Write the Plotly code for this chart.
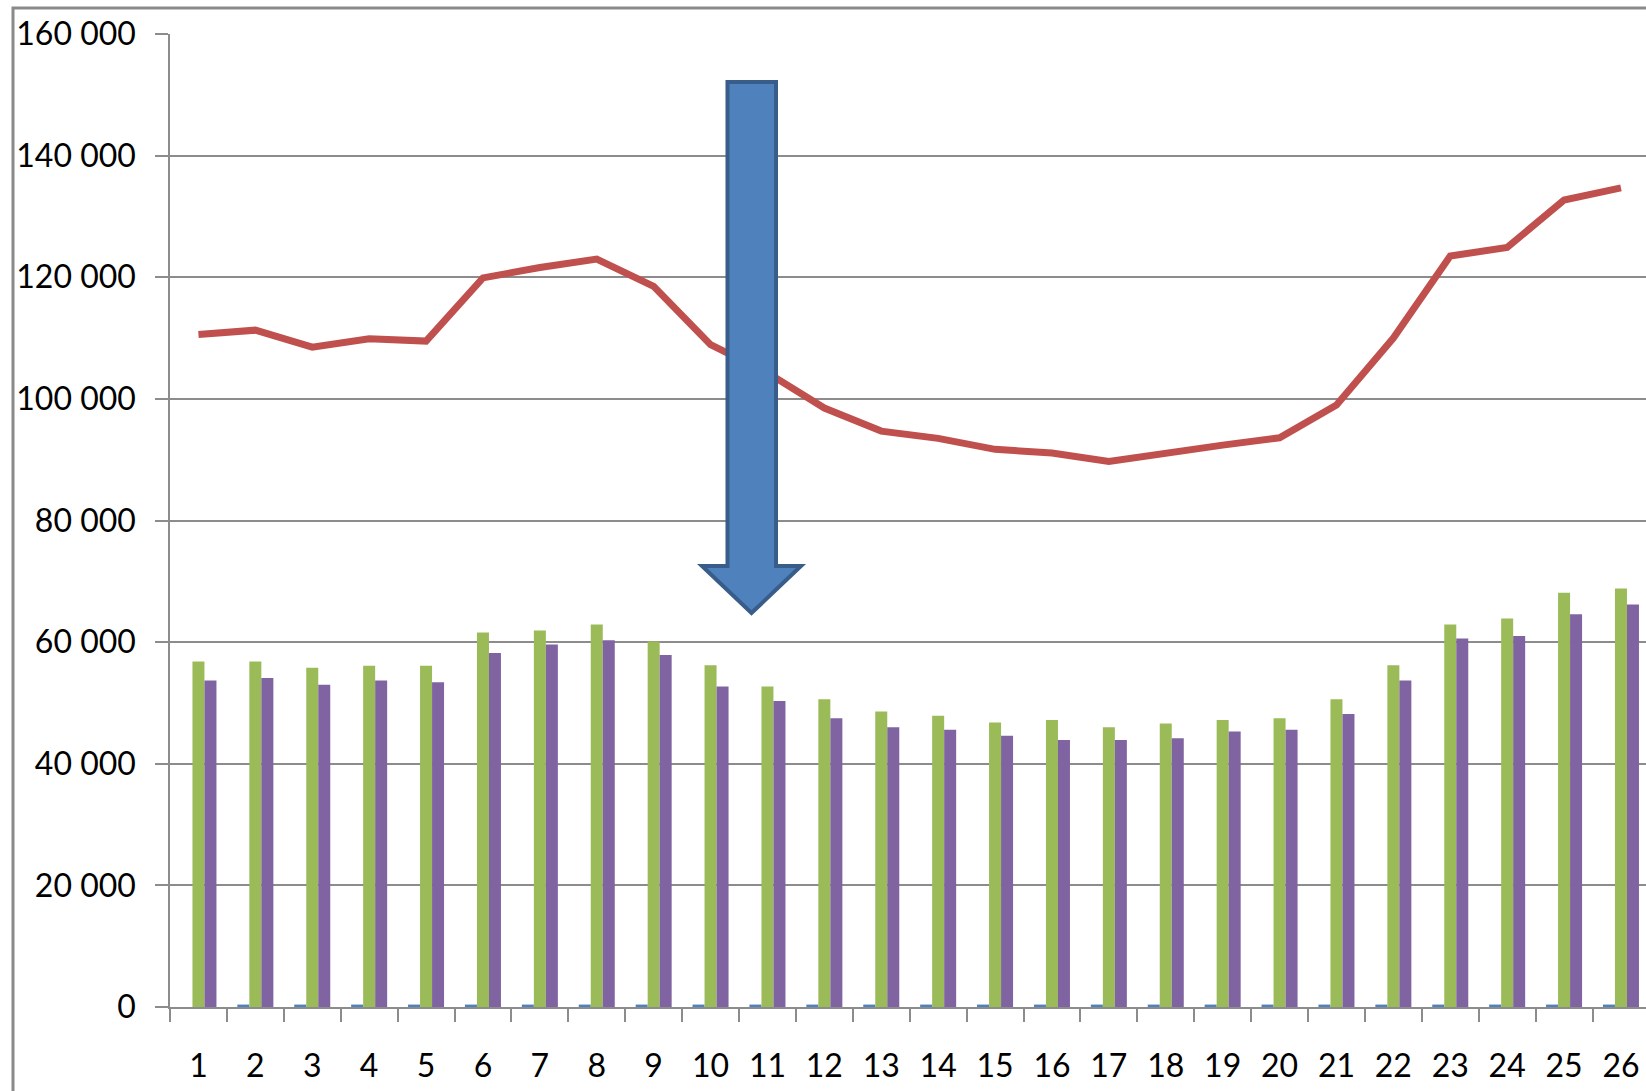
import plotly.graph_objects as go

categories = [str(i) for i in range(1, 27)]

blue_values = [0] + [400] * 25
green_values = [56800, 56800, 55800, 56100, 56100, 61600, 61900, 62900, 60100, 56200,
                52700, 50600, 48600, 47900, 46800, 47200, 46000, 46600, 47200, 47500,
                50600, 56200, 62900, 63900, 68100, 68800]
purple_values = [53700, 54100, 53000, 53700, 53400, 58200, 59600, 60300, 57900, 52700,
                 50300, 47500, 46000, 45600, 44600, 43900, 43900, 44200, 45300, 45600,
                 48200, 53700, 60600, 61000, 64600, 66200]
line_values = [110600, 111300, 108500, 109900, 109500, 119900, 121600, 123000, 118500, 108900,
               104300, 98500, 94700, 93500, 91700, 91100, 89700, 91100, 92400, 93600,
               99000, 110000, 123500, 124900, 132700, 134700]

y_tick_values = [0, 20000, 40000, 60000, 80000, 100000, 120000, 140000, 160000]
y_tick_labels = ["0", "20 000", "40 000", "60 000", "80 000", "100 000", "120 000", "140 000", "160 000"]

W, H = 1646, 1091
L, R, T, B = 170, 0, 34, 84
PW = W - L - R
PH = H - T - B

def px(x):
    return (x - L) / PW

def py(y):
    return (H - B - y) / PH

fig = go.Figure()
fig.add_trace(go.Bar(x=categories, y=blue_values, marker_color="#4F81BD",
                     marker_line_width=0, name="s1"))
fig.add_trace(go.Bar(x=categories, y=green_values, marker_color="#9BBB59",
                     marker_line_width=0, name="s2"))
fig.add_trace(go.Bar(x=categories, y=purple_values, marker_color="#8064A2",
                     marker_line_width=0, name="s3"))
fig.add_trace(go.Scatter(x=categories, y=line_values, mode="lines",
                         line=dict(color="#C0504D", width=7), name="s4"))

font = dict(family="Lato, Carlito, sans-serif", size=32, color="#000000")

fig.update_layout(
    width=W, height=H,
    margin=dict(l=L, r=R, t=T, b=B, autoexpand=False),
    paper_bgcolor="white", plot_bgcolor="white",
    showlegend=False,
    barmode="group", bargap=0.367, bargroupgap=0,
    font=font,
)
fig.update_xaxes(
    type="category", range=[-0.5, 25.44],
    showgrid=False, showline=True, linecolor="#8C8C8C", linewidth=1.5,
    ticks="outside", ticklen=13, tickcolor="#8C8C8C", tickwidth=1.5,
    tickson="boundaries", ticklabelstandoff=30,
    tickfont=font, automargin=False,
)
fig.update_yaxes(
    range=[0, 160000], tickvals=y_tick_values, ticktext=y_tick_labels,
    showgrid=True, gridcolor="#8C8C8C", gridwidth=1.5,
    showline=True, linecolor="#8C8C8C", linewidth=1.5,
    ticks="outside", ticklen=13, tickcolor="#8C8C8C", tickwidth=1.5,
    ticklabelstandoff=13, zeroline=False,
    tickfont=font, automargin=False,
)

# outer chart border (cropped at right and bottom)
fig.add_shape(type="rect", xref="paper", yref="paper",
              x0=px(13), x1=px(1700), y0=py(8), y1=py(1150),
              line=dict(color="#8A8A8A", width=3), fillcolor="rgba(0,0,0,0)", layer="below")

# big down arrow
pts = [(727.5, 82), (776, 82), (776, 566), (801, 566), (751.5, 613),
       (702, 566), (727.5, 566)]
path = "M " + " L ".join(f"{px(x):.5f},{py(y):.5f}" for x, y in pts) + " Z"
fig.add_shape(type="path", xref="paper", yref="paper", path=path,
              fillcolor="#4F81BD", line=dict(color="#385D8A", width=4), layer="above")

fig.write_html("out.html", config={"displayModeBar": False},
               post_script="document.body.style.margin='0';document.body.style.overflow='hidden';")
